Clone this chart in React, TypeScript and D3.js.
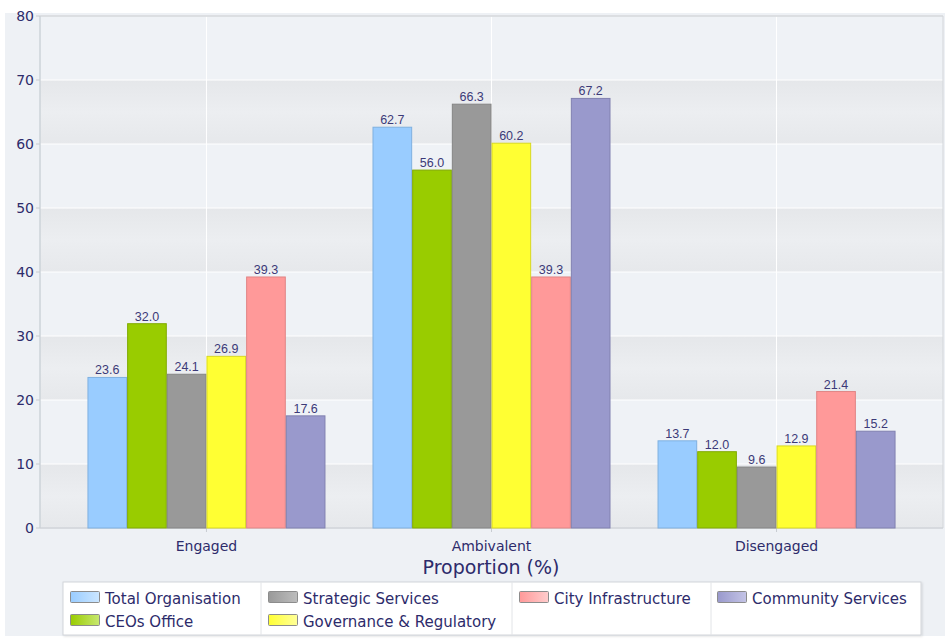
import React from "react";
import * as d3 from "d3";

const categories = ["Engaged", "Ambivalent", "Disengaged"];
const seriesNames = [
  "Total Organisation",
  "CEOs Office",
  "Strategic Services",
  "Governance & Regulatory",
  "City Infrastructure",
  "Community Services",
];
const totalOrganisation = [23.6, 62.7, 13.7];
const ceosOffice = [32.0, 56.0, 12.0];
const strategicServices = [24.1, 66.3, 9.6];
const governanceRegulatory = [26.9, 60.2, 12.9];
const cityInfrastructure = [39.3, 39.3, 21.4];
const communityServices = [17.6, 67.2, 15.2];
const seriesValues = [
  totalOrganisation,
  ceosOffice,
  strategicServices,
  governanceRegulatory,
  cityInfrastructure,
  communityServices,
];
const yTicks = [0, 10, 20, 30, 40, 50, 60, 70, 80];

const fills = ["#99ccff", "#99cc00", "#999999", "#ffff33", "#ff9999", "#9999cc"];
const strokes = ["#7fb0e0", "#80aa00", "#858585", "#d8d820", "#e08585", "#8080b0"];
const swatchLight = ["#cce6ff", "#c8e870", "#bdbdbd", "#ffff99", "#ffcccc", "#c4c4e6"];

const W = 945;
const H = 639;
const left = 40;
const right = 943;
const top = 16;
const bottom = 528;
const textColor = "#2d2b6b";
const font = "'DejaVu Sans', Verdana, sans-serif";

export default function App() {
  const x = d3
    .scaleBand<string>()
    .domain(categories)
    .range([left, right])
    .paddingInner(0.165)
    .paddingOuter(0.1665);
  const xi = d3
    .scaleBand<number>()
    .domain(d3.range(seriesNames.length))
    .range([0, x.bandwidth()])
    .padding(0);
  const y = d3.scaleLinear().domain([0, 80]).range([bottom, top]);

  const bands = yTicks.slice(0, -1).filter((t) => t % 20 === 0);

  const legendX = 63;
  const legendY = 582;
  const legendW = 858;
  const legendH = 53;
  const colX = [70, 268, 519, 717];
  const sepX = [261, 512, 711];
  const legendItems = [
    { i: 0, c: 0, r: 0 },
    { i: 1, c: 0, r: 1 },
    { i: 2, c: 1, r: 0 },
    { i: 3, c: 1, r: 1 },
    { i: 4, c: 2, r: 0 },
    { i: 5, c: 3, r: 0 },
  ];

  return (
    <svg
      width={W}
      height={H}
      style={{ position: "absolute", left: 0, top: 0 }}
      fontFamily={font}
    >
      <defs>
        <linearGradient id="band" x1="0" y1="0" x2="0" y2="1">
          <stop offset="0" stopColor="#e5e7ea" />
          <stop offset="0.5" stopColor="#eceef1" />
          <stop offset="1" stopColor="#e6e8eb" />
        </linearGradient>
        {fills.map((f, i) => (
          <linearGradient key={i} id={`sw${i}`} x1="0" y1="0" x2="1" y2="0">
            <stop offset="0" stopColor={f} />
            <stop offset="1" stopColor={swatchLight[i]} />
          </linearGradient>
        ))}
        <filter id="shadow" x="-5%" y="-20%" width="110%" height="150%">
          <feDropShadow dx="1" dy="1" stdDeviation="1" floodColor="#000" floodOpacity="0.12" />
        </filter>
      </defs>
      <rect x={0} y={0} width={W} height={H} fill="#ffffff" />
      <rect x={5} y={13} width={W - 5} height={623} fill="#eef1f5" />
      {/* plot background */}
      <rect x={left} y={top} width={right - left} height={bottom - top} fill="#eff2f6" />
      {bands.map((b) => (
        <rect
          key={b}
          x={left}
          y={y(b + 10)}
          width={right - left}
          height={y(b) - y(b + 10)}
          fill="url(#band)"
        />
      ))}
      {yTicks.map((t) => (
        <line key={t} x1={left} x2={right} y1={y(t)} y2={y(t)} stroke="#ffffff" strokeWidth={1} />
      ))}
      {categories.map((c) => (
        <line
          key={c}
          x1={x(c)! + x.bandwidth() / 2}
          x2={x(c)! + x.bandwidth() / 2}
          y1={top}
          y2={bottom}
          stroke="#ffffff"
          strokeWidth={1}
        />
      ))}
      {/* frame */}
      <line x1={left} x2={right} y1={top} y2={top} stroke="#d3d6da" strokeWidth={1.5} />
      <line x1={right} x2={right} y1={top} y2={bottom} stroke="#d3d6da" strokeWidth={1} />
      <line x1={left} x2={left} y1={top} y2={bottom} stroke="#cdd3d8" strokeWidth={1.5} />
      <line x1={left} x2={right} y1={bottom} y2={bottom} stroke="#cdd1d6" strokeWidth={1.5} />
      {yTicks.map((t) => (
        <g key={t}>
          <line x1={left - 4} x2={left} y1={y(t)} y2={y(t)} stroke="#c8ccd1" />
          <text
            x={34}
            y={y(t) + 5}
            textAnchor="end"
            fontSize={14}
            fill={textColor}
          >
            {t}
          </text>
        </g>
      ))}
      {categories.map((c) => (
        <g key={c}>
          <line
            x1={x(c)! + x.bandwidth() / 2}
            x2={x(c)! + x.bandwidth() / 2}
            y1={bottom}
            y2={bottom + 4}
            stroke="#c8ccd1"
          />
          <text
            x={x(c)! + x.bandwidth() / 2}
            y={551}
            textAnchor="middle"
            fontSize={14}
            fill={textColor}
          >
            {c}
          </text>
        </g>
      ))}
      {/* bars */}
      {seriesValues.map((vals, si) =>
        categories.map((c, ci) => {
          const bx = x(c)! + xi(si)!;
          const by = y(vals[ci]);
          return (
            <g key={`${si}-${ci}`}>
              <rect
                x={bx + 0.5}
                y={by + 0.5}
                width={xi.bandwidth() - 1}
                height={bottom - by - 0.5}
                fill={fills[si]}
                stroke={strokes[si]}
                strokeWidth={1}
              />
              <text
                x={bx + xi.bandwidth() / 2}
                y={by - 2.5}
                textAnchor="middle"
                fontSize={12.5}
                fontFamily="'Liberation Sans', Arial, sans-serif"
                fill="#3c3a78"
              >
                {vals[ci].toFixed(1)}
              </text>
            </g>
          );
        })
      )}
      <text x={491} y={574} textAnchor="middle" fontSize={19} fill={textColor}>
        Proportion (%)
      </text>
      {/* legend */}
      <rect
        x={legendX}
        y={legendY}
        width={legendW}
        height={legendH}
        fill="#ffffff"
        stroke="#d2d5d9"
        strokeWidth={1}
        filter="url(#shadow)"
      />
      {sepX.map((sx) => (
        <line key={sx} x1={sx} x2={sx} y1={legendY} y2={legendY + legendH} stroke="#e2e4e7" />
      ))}
      {legendItems.map(({ i, c, r }) => (
        <g key={i}>
          <rect
            x={colX[c] + 0.5}
            y={591.5 + r * 23}
            width={29}
            height={11}
            fill={`url(#sw${i})`}
            stroke="#8c8c8c"
            strokeWidth={1}
            rx={1}
          />
          <text x={colX[c] + 35} y={603.5 + r * 23} fontSize={15} fill={textColor}>
            {seriesNames[i]}
          </text>
        </g>
      ))}
    </svg>
  );
}
